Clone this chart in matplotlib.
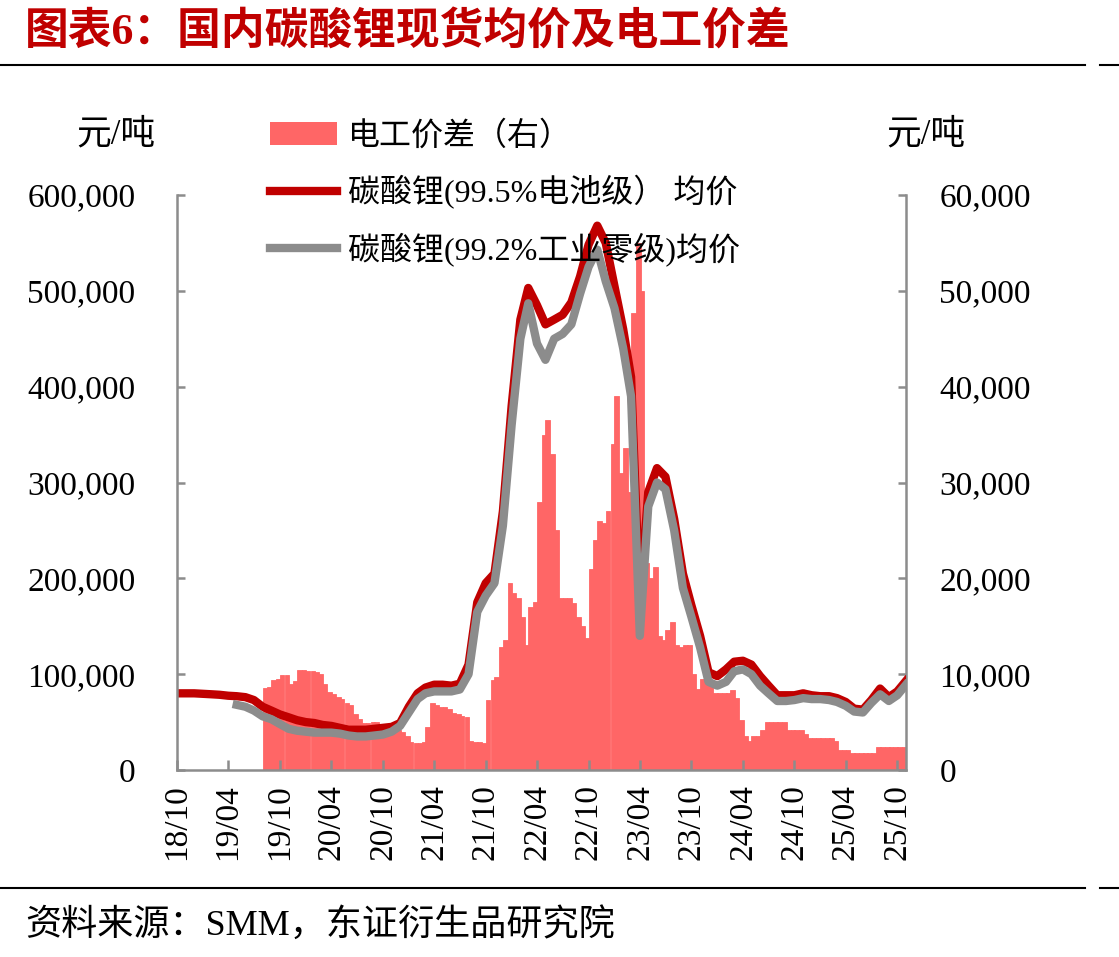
import numpy as np
import pandas as pd
import matplotlib
matplotlib.use("Agg")
import matplotlib.pyplot as plt
import matplotlib.dates as mdates
from matplotlib.lines import Line2D
from matplotlib.patches import Patch
from matplotlib.ticker import FuncFormatter, MultipleLocator

plt.rcParams['font.family'] = ['Liberation Serif', 'Noto Sans CJK SC']

# 月度均价（元/吨），2018-10 至 2025-11
months = pd.date_range('2018-10-01', '2025-11-01', freq='MS') + pd.Timedelta(days=14)
battery = [
    80000, 80000, 80000, 79500, 79000, 78500, 77500, 77000, 76000, 73000,
    66000, 62000, 58000, 55000, 52000, 50000, 49000, 47000, 46000, 44000,
    42000, 42000, 42000, 43000, 44000, 45000, 49000, 66000, 80000, 86000,
    89000, 89000, 88000, 90000, 110000, 175000, 195000, 205000, 270000, 380000,
    470000, 503000, 485000, 465000, 470000, 475000, 488000, 515000, 548000, 568000,
    550000, 505000, 460000, 410000, 175000, 290000, 315000, 306000, 262000, 205000,
    172000, 140000, 102000, 98000, 105000, 113000, 114000, 110000, 98000, 88000,
    78000, 78000, 78000, 80000, 78000, 77000, 77000, 75000, 71000, 64000,
    63000, 73000, 85000, 76000, 82000, 93000,
]
industrial = [
    np.nan, np.nan, np.nan, np.nan, np.nan, np.nan, np.nan, 68000, 66000, 62000,
    56000, 53000, 48000, 43000, 41000, 40000, 39000, 39000, 39000, 38000,
    36000, 35000, 35000, 36000, 37000, 40000, 46000, 60000, 74000, 80000,
    82000, 82000, 82000, 84000, 100000, 165000, 182000, 195000, 255000, 360000,
    450000, 487000, 445000, 428000, 450000, 455000, 465000, 497000, 525000, 543000,
    510000, 482000, 440000, 390000, 140000, 275000, 300000, 293000, 250000, 190000,
    160000, 128000, 92000, 88000, 92000, 103000, 105000, 100000, 88000, 80000,
    72000, 72000, 73000, 75000, 74000, 74000, 73000, 71000, 67000, 61000,
    60000, 70000, 79000, 72000, 78000, 89000,
]

# 电工价差（元/吨，右轴），半月
spread_dates = pd.date_range('2019-08-15', periods=152, freq='SMS')
spread = [
    8600, 8700, 9400, 9500, 9900, 9900, 9000, 9300, 10400, 10400,
    10300, 10300, 10200, 10000, 9000, 8100, 7900, 7600, 7400, 7000,
    6800, 5800, 5300, 4900, 4900, 5000, 5000, 4800, 4300, 4200,
    4200, 4200, 4000, 3500, 2900, 2800, 2800, 2900, 4500, 7000,
    6800, 6600, 6600, 6400, 5900, 5800, 5600, 5500, 3000, 2900,
    2900, 2800, 7300, 9400, 9700, 12800, 13600, 19500, 18500, 17900,
    16000, 13000, 17000, 17500, 28000, 35000, 36500, 33000, 25000, 18000,
    18000, 18000, 17400, 16000, 15000, 13800, 21000, 24000, 26000, 25800,
    27000, 34000, 39000, 31000, 33600, 29000, 47700, 55000, 50000, 21600,
    20000, 21200, 14000, 13600, 14600, 15400, 13000, 12800, 13000, 13000,
    10000, 8500, 9500, 10100, 9000, 8000, 8000, 8000, 8000, 8300,
    7500, 5200, 3500, 3000, 3500, 3500, 4200, 5000, 5000, 5000,
    5000, 5000, 4200, 4200, 4200, 4200, 3800, 3300, 3300, 3300,
    3300, 3300, 3300, 3000, 2100, 2100, 2100, 1800, 1800, 1800,
    1800, 1800, 1800, 2400, 2400, 2400, 2400, 2400, 2400, 2400,
    2600, 2600,
]

tick_dates = pd.date_range('2018-10-01', '2025-10-01', freq='6MS') + pd.Timedelta(days=14)

RED = '#C00000'
GRAY = '#8C8C8C'
FILL = '#FF6666'
AXC = '#8C8C8C'

fig = plt.figure(figsize=(11.19, 9.57), dpi=100)
ax = fig.add_axes([177 / 1119, 1 - 770 / 957, (906 - 177) / 1119, (770 - 195) / 957])
ax2 = ax.twinx()
ax.set_zorder(2)
ax2.set_zorder(1)
ax.patch.set_visible(False)

ax2.bar(spread_dates, spread, width=16.5, align='edge', color=FILL,
        edgecolor=FILL, linewidth=0.6)
ax.plot(months, battery, color=RED, lw=6, solid_joinstyle='round')
ax.plot(months, industrial, color=GRAY, lw=6, solid_joinstyle='round')

ax.set_xlim(pd.Timestamp('2018-10-15'), pd.Timestamp('2025-11-15'))
ax.set_ylim(0, 600000)
ax2.set_ylim(0, 60000)
ax.yaxis.set_major_locator(MultipleLocator(100000))
ax2.yaxis.set_major_locator(MultipleLocator(10000))
fmt = FuncFormatter(lambda v, p: f'{v:,.0f}')
ax.yaxis.set_major_formatter(fmt)
ax2.yaxis.set_major_formatter(fmt)
ax.set_xticks(tick_dates)
ax.xaxis.set_major_formatter(mdates.DateFormatter('%y/%m'))

for a in (ax, ax2):
    a.spines['top'].set_visible(False)
    for s in ('left', 'right', 'bottom'):
        a.spines[s].set_color(AXC)
        a.spines[s].set_linewidth(1.8)
ax.spines['right'].set_visible(False)
ax2.spines['left'].set_visible(False)
ax2.spines['bottom'].set_visible(False)

ax.tick_params(axis='x', direction='in', length=7, width=1.8, color=AXC,
               labelsize=24, rotation=90, pad=10)
ax.tick_params(axis='y', direction='in', length=6, width=1.8, color=AXC,
               labelsize=24, pad=30)
ax2.tick_params(axis='y', direction='in', length=6, width=1.8, color=AXC,
                labelsize=24, pad=24)

# 图例
handles = [
    Patch(facecolor=FILL, edgecolor='none'),
    Line2D([], [], color=RED, lw=6),
    Line2D([], [], color=GRAY, lw=6),
]
labels = ['电工价差（右）', '碳酸锂(99.5%电池级） 均价', '碳酸锂(99.2%工业零级)均价']
fig.legend(handles, labels, loc='upper left', bbox_to_anchor=(254 / 1119, 1 - 105 / 957),
           frameon=False, fontsize=23, handlelength=2.1, handleheight=0.7,
           handletextpad=0.35, labelspacing=0.72, borderpad=0)

# 单位
fig.text(116 / 1119, 1 - 135 / 957, '元/吨', fontsize=25, ha='center', va='center')
fig.text(926 / 1119, 1 - 135 / 957, '元/吨', fontsize=25, ha='center', va='center')

# 标题与来源
fig.text(25 / 1119, 1 - 33 / 957, '图表6：国内碳酸锂现货均价及电工价差',
         fontsize=31.5, color=RED, weight='bold', ha='left', va='center')
fig.text(25 / 1119, 1 - 925 / 957, '资料来源：SMM，东证衍生品研究院',
         fontsize=26, ha='left', va='center')

for yy in (65, 888):
    fig.add_artist(Line2D([0, 1085 / 1119], [1 - yy / 957] * 2, color='black', lw=1.5))
    fig.add_artist(Line2D([1100 / 1119, 1], [1 - yy / 957] * 2, color='black', lw=1.5))

fig.savefig('out.png', dpi=100)
